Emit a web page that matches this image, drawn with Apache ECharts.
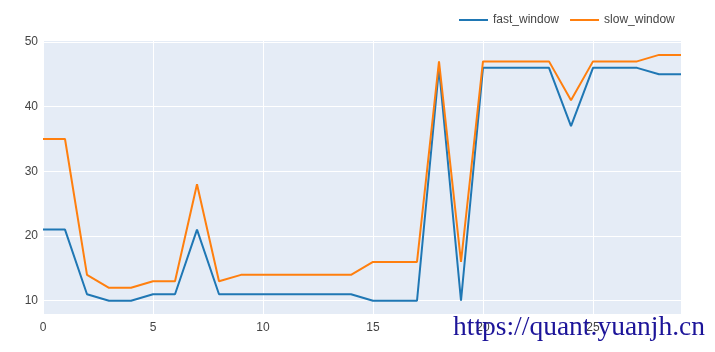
<!DOCTYPE html>
<html><head><meta charset="utf-8">
<script src="https://cdn.jsdelivr.net/npm/echarts@6/dist/echarts.min.js"></script>
<style>html,body{margin:0;padding:0;background:#fff}#c{width:715px;height:352px}</style>
</head><body><div id="c"></div>
<script>
const xValues = [0,1,2,3,4,5,6,7,8,9,10,11,12,13,14,15,16,17,18,19,20,21,22,23,24,25,26,27,28,29];
const fastWindow = [21,21,11,10,10,11,11,21,11,11,11,11,11,11,11,10,10,10,46,10,46,46,46,46,37,46,46,46,45,45];
const slowWindow = [35,35,14,12,12,13,13,28,13,14,14,14,14,14,14,16,16,16,47,16,47,47,47,47,41,47,47,47,48,48];
const yTicks = [10,20,30,40,50];
const xTicks = [0,5,10,15,20,25];

const chart = echarts.init(document.getElementById('c'), null, {renderer:'canvas'});
const font = '"Liberation Sans", Arial, sans-serif';
chart.setOption({
  animation:false,
  backgroundColor:'#fff',
  grid:{left:43,right:34,top:41,bottom:38,show:true,backgroundColor:'#E5ECF6',borderWidth:0},
  legend:{
    left:459, top:14, padding:0, itemWidth:29, itemHeight:2, itemGap:11,
    icon:'rect',
    textStyle:{color:'#444',fontSize:12,fontFamily:font},
    data:['fast_window','slow_window']
  },
  xAxis:{
    type:'value', min:0, max:29,
    axisLine:{show:false}, axisTick:{show:false, customValues:xTicks},
    axisLabel:{customValues:xTicks, color:'#444', fontSize:12, fontFamily:font, margin:8},
    splitLine:{show:true, lineStyle:{color:'#fff',width:1}}
  },
  yAxis:{
    type:'value', min:7.95, max:50.15,
    axisLine:{show:false}, axisTick:{show:false, customValues:yTicks},
    axisLabel:{customValues:yTicks, color:'#444', fontSize:12, fontFamily:font, margin:5},
    splitLine:{show:true, lineStyle:{color:'#fff',width:1}}
  },
  series:[
    {name:'fast_window', type:'line', showSymbol:false, symbol:'none',
     data:xValues.map((x,i)=>[x,fastWindow[i]]), lineStyle:{width:2,color:'#1f77b4'}, itemStyle:{color:'#1f77b4'}},
    {name:'slow_window', type:'line', showSymbol:false, symbol:'none',
     data:xValues.map((x,i)=>[x,slowWindow[i]]), lineStyle:{width:2,color:'#ff7f0e'}, itemStyle:{color:'#ff7f0e'}}
  ],
  graphic:[{
    type:'text', left:453, top:314, z:100,
    style:{text:'https://quant.yuanjh.cn', fill:'#1c1499', fontSize:27.5, fontFamily:'"Liberation Serif", "DejaVu Serif", serif'}
  }]
});
</script></body></html>
